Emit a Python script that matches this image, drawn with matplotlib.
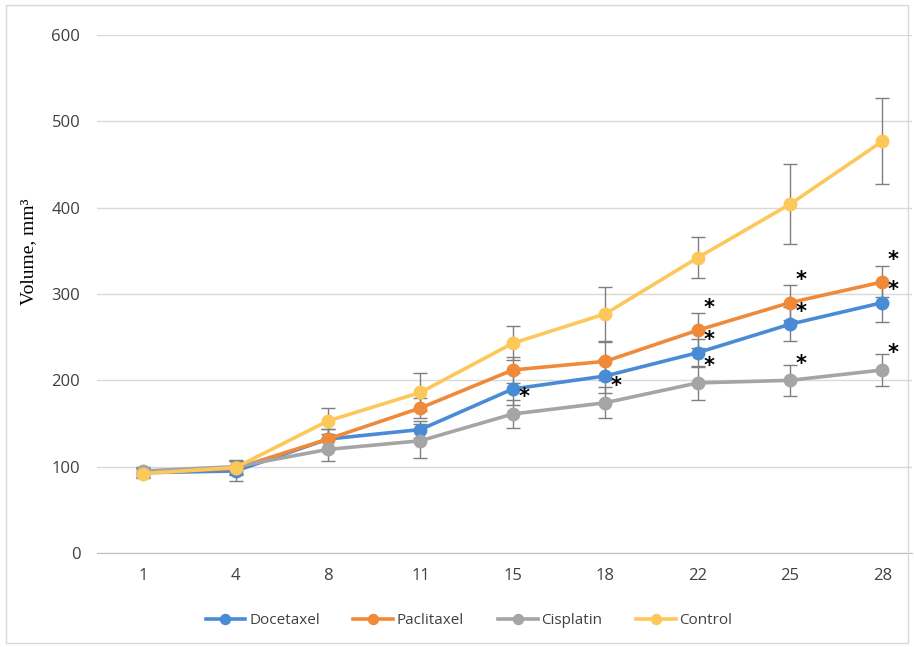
import matplotlib
matplotlib.use("Agg")
import matplotlib.pyplot as plt
from matplotlib.patches import Rectangle

days = ["1", "4", "8", "11", "15", "18", "22", "25", "28"]
series_names = ["Docetaxel", "Paclitaxel", "Cisplatin", "Control"]
docetaxel = [93, 95, 132, 143, 190, 205, 232, 265, 290]
paclitaxel = [93, 98, 132, 168, 212, 222, 258, 290, 314]
cisplatin = [95, 100, 120, 130, 161, 174, 197, 200, 212]
control = [92, 99, 153, 186, 243, 277, 342, 404, 477]
docetaxel_err = [5, 12, 12, 10, 18, 20, 16, 20, 22]
paclitaxel_err = [5, 8, 12, 12, 15, 22, 20, 20, 18]
cisplatin_err = [5, 8, 13, 20, 16, 18, 20, 18, 18]
control_err = [5, 8, 15, 22, 20, 31, 24, 46, 50]
# indices (day positions) flagged with * for each series
docetaxel_sig = [6, 7, 8]
paclitaxel_sig = [6, 7, 8]
cisplatin_sig = [4, 5, 6, 7, 8]
control_sig = []

colors = ["#4A8BD6", "#F08A3B", "#A5A5A5", "#FDC85A"]
star_offsets = [9, 16, 12, 12]  # vertical offset of * above point, in points

fig = plt.figure(figsize=(9.14, 6.47), dpi=100)
ax = fig.add_axes([97/914, 1-553/647, (912-97)/914, (553-35)/647])

x = list(range(len(days)))
data = [docetaxel, paclitaxel, cisplatin, control]
errs = [docetaxel_err, paclitaxel_err, cisplatin_err, control_err]
sigs = [docetaxel_sig, paclitaxel_sig, cisplatin_sig, control_sig]

for name, vals, err, c in zip(series_names, data, errs, colors):
    ax.errorbar(x, vals, yerr=err, fmt="none", ecolor="#7F7F7F", elinewidth=1.0,
                capsize=5, capthick=1.0, zorder=2)
for name, vals, c in zip(series_names, data, colors):
    ax.plot(x, vals, color=c, lw=2.6, marker="o", markersize=9, label=name, zorder=3)
for vals, sig, off in zip(data, sigs, star_offsets):
    for i in sig:
        ax.annotate("*", (x[i], vals[i]), xytext=(8, off), textcoords="offset points",
                    ha="center", va="center", fontsize=15, fontweight="bold", color="black",
                    family="DejaVu Sans", zorder=5)

ax.set_ylim(0, 600)
ax.set_xlim(-0.5, 8.32)
ax.set_yticks([0, 100, 200, 300, 400, 500, 600])
ax.set_xticks(x)
ax.set_xticklabels(days)
ax.grid(axis="y", color="#D9D9D9", lw=1.0)
ax.set_axisbelow(True)
for s in ["top", "right", "left"]:
    ax.spines[s].set_visible(False)
ax.spines["bottom"].set_color("#BFBFBF")
ax.tick_params(axis="y", length=0, labelsize=12, colors="#404040", pad=12)
ax.tick_params(axis="x", length=0, labelsize=12, colors="#404040", pad=11)
for lab in ax.get_xticklabels() + ax.get_yticklabels():
    lab.set_family("Open Sans")
ax.set_ylabel("Volume, mm³", family="Liberation Serif", fontsize=14, color="black")
ax.yaxis.set_label_coords(-0.074, (553-252)/518)

leg = fig.legend(loc="center", bbox_to_anchor=(469/914, 1-621/647), ncol=4, frameon=False,
                 prop={"family": "Open Sans", "size": 11}, handlelength=2.6, columnspacing=2.2,
                 handletextpad=0.25, markerscale=0.8)
for t in leg.get_texts():
    t.set_color("#404040")

fig.patches.append(Rectangle((6/914, 1-643/647), (908-6)/914, (643-5)/647, transform=fig.transFigure,
                             fill=False, edgecolor="#D9D9D9", lw=1.0))

fig.savefig("out.png", dpi=100)
